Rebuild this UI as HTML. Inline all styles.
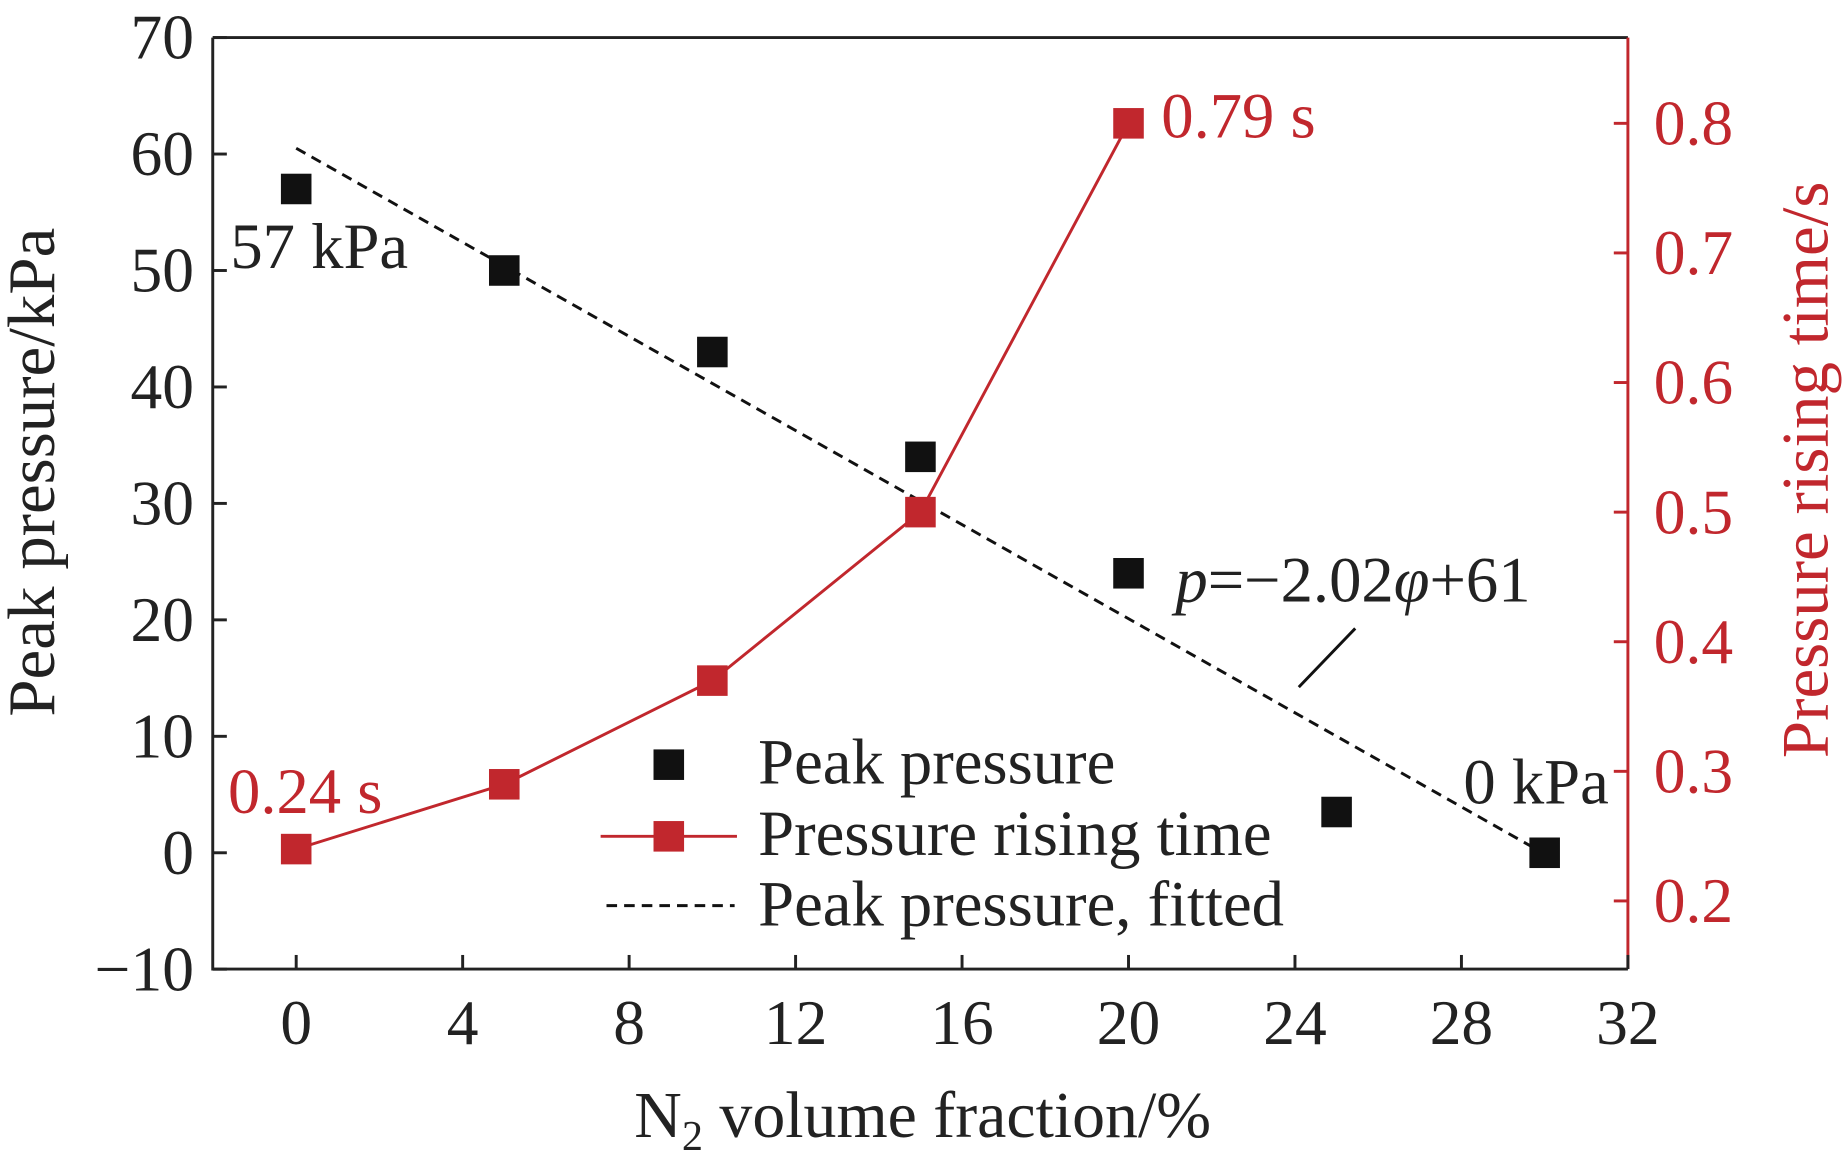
<!DOCTYPE html>
<html><head><meta charset="utf-8"><style>
html,body{margin:0;padding:0;background:#fff;overflow:hidden}
svg{display:block}
text{font-family:"Liberation Serif",serif}
</style></head><body>
<svg id="chart" width="1843" height="1157" viewBox="0 0 1568 985" preserveAspectRatio="none" xmlns="http://www.w3.org/2000/svg"></svg>
<script>
const xCats=[0,5,10,15,20,25,30];
const peakPressure=[57,50,43,34,24,3.5,0];
const riseX=[0,5,10,15,20];
const riseTime=[0.24,0.29,0.37,0.50,0.80];
const fitSlope=-2.02, fitIntercept=60.5, fitRange=[0,30];
const xTicks=[0,4,8,12,16,20,24,28,32];
const yTicks=[-10,0,10,20,30,40,50,60,70];
const y2Ticks=[0.2,0.3,0.4,0.5,0.6,0.7,0.8];

const L=181,R=1385,T=32,B=825,RED='#c1272d';
const X=v=>252+(v-0)*(1385-252)/32;
const Y=v=>726+(v-0)*(32-726)/70;
const Y2=v=>767+(v-0.2)*(105-767)/0.6;
const svg=document.getElementById('chart');
const NS='http://www.w3.org/2000/svg';
function mk(tag,attrs,txt){const e=document.createElementNS(NS,tag);for(const k in attrs)e.setAttribute(k,attrs[k]);if(txt!==undefined)e.textContent=txt;svg.appendChild(e);return e;}

let e;
e=mk('path',{d:`M${L},${T}H${R}M${L},${T}V${B}H${R}`,fill:'none',stroke:'#222','stroke-width':2.5});

e=mk('line',{x1:R,y1:T,x2:R,y2:B,stroke:RED,'stroke-width':2.5});


xTicks.forEach(t=>{
  const l=mk('line',{x1:X(t),y1:B,x2:X(t),y2:B-12,stroke:'#222','stroke-width':2.5});
  
  const tx=mk('text',{x:X(t),y:B+64,'font-size':54,'text-anchor':'middle',fill:'#222'},String(t));
  
});
yTicks.forEach(t=>{
  const l=mk('line',{x1:L,y1:Y(t),x2:L+12,y2:Y(t),stroke:'#222','stroke-width':2.5});
  
  const tx=mk('text',{x:L-16,y:Y(t)+18,'font-size':54,'text-anchor':'end',fill:'#222'},t<0?'\u2212'+(-t):String(t));
  
});
y2Ticks.forEach(t=>{
  const l=mk('line',{x1:R,y1:Y2(t),x2:R-12,y2:Y2(t),stroke:RED,'stroke-width':2.5});
  
  const tx=mk('text',{x:R+22,y:Y2(t)+18,'font-size':54,fill:RED},t.toFixed(1));
  
});

e=mk('text',{x:0,y:0,'font-size':57,'text-anchor':'middle',fill:'#222',transform:'translate(46,402) rotate(-90)'},'Peak pressure/kPa');

e=mk('text',{x:0,y:0,'font-size':57,'text-anchor':'middle',fill:RED,transform:'translate(1555,400) rotate(-90)'},'Pressure rising time/s');

e=mk('text',{x:785,y:968,'font-size':56,'text-anchor':'middle',fill:'#222'});

e.innerHTML='N<tspan font-size="36" dy="11">2</tspan><tspan dy="-11"> volume fraction/%</tspan>';

e=mk('line',{x1:X(fitRange[0]),y1:Y(fitIntercept+fitSlope*fitRange[0]),x2:X(fitRange[1]),y2:Y(fitIntercept+fitSlope*fitRange[1]),stroke:'#111','stroke-width':2.5,'stroke-dasharray':'9,6'});


e=mk('polyline',{points:riseX.map((x,i)=>X(x)+','+Y2(riseTime[i])).join(' '),fill:'none',stroke:RED,'stroke-width':2.5});


const S=26;
xCats.forEach((x,i)=>{
  const r=mk('rect',{x:X(x)-S/2,y:Y(peakPressure[i])-S/2,width:S,height:S,fill:'#111'});
  
});
riseX.forEach((x,i)=>{
  const r=mk('rect',{x:X(x)-S/2,y:Y2(riseTime[i])-S/2,width:S,height:S,fill:RED});
  
});

function ann(x,y,txt,fill,name){const t=mk('text',{x:x,y:y,'font-size':55,fill:fill},txt);return t;}
ann(196,228,'57 kPa','#222','label-57kpa');
ann(194,692,'0.24 s',RED,'label-024s');
ann(988,117,'0.79 s',RED,'label-079s');
ann(1245,684,'0 kPa','#222','label-0kpa');
e=ann(1000,512,'','#222','fit-equation');
e.innerHTML='<tspan font-style="italic">p</tspan>=\u22122.02<tspan font-style="italic">\u03c6</tspan>+61';
e=mk('line',{x1:1105,y1:585,x2:1153,y2:535,stroke:'#111','stroke-width':2.5});


e=mk('rect',{x:569-S/2,y:651-S/2,width:S,height:S,fill:'#111'});

e=mk('line',{x1:511,y1:712,x2:627,y2:712,stroke:RED,'stroke-width':2.5});

e=mk('rect',{x:569-S/2,y:712-S/2,width:S,height:S,fill:RED});

e=mk('line',{x1:516,y1:771,x2:625,y2:771,stroke:'#111','stroke-width':2.5,'stroke-dasharray':'9,6'});

ann(645,667,'Peak pressure','#222','legend-entry-peak');
ann(645,728,'Pressure rising time','#222','legend-entry-rising');
ann(645,788,'Peak pressure, fitted','#222','legend-entry-fit');
</script>
</body></html>
